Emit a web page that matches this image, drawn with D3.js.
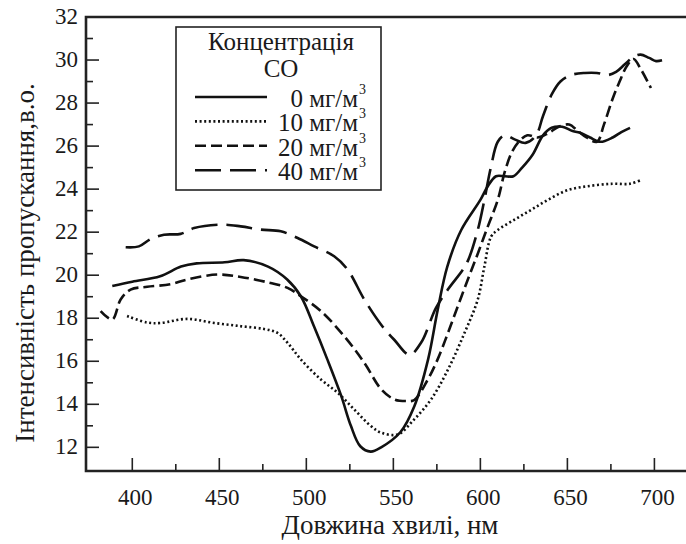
<!DOCTYPE html>
<html><head><meta charset="utf-8">
<script src="https://cdn.jsdelivr.net/npm/d3@7"></script>
<style>body{margin:0;background:#fff}svg{display:block}</style>
</head><body><svg id="c" width="686" height="544" font-family="'Liberation Serif','Times New Roman',Tinos,'DejaVu Serif',serif"></svg>
<script>
// ---- data ----
const xTicks = [400, 450, 500, 550, 600, 650, 700];
const yTicks = [12, 14, 16, 18, 20, 22, 24, 26, 28, 30, 32];
const seriesNames = ["0 мг/м", "10 мг/м", "20 мг/м", "40 мг/м"];

const wl0 = [388.5,400,416,428,437,453,464,478,489,497,504.5,512,520,525.6,531,537,543,554,562,570,575.5,581,589,600,604,609,614,619,624,630,636,641,647,653,658,663,669,676,681,686];
const v0  = [19.5,19.7,19.95,20.4,20.55,20.6,20.7,20.4,19.8,19.0,17.6,16.1,14.4,13.0,12.05,11.8,12.0,12.7,13.9,16.1,18.4,20.4,22.1,23.5,24.1,24.6,24.6,24.6,25.0,25.6,26.5,26.85,26.9,26.7,26.6,26.4,26.2,26.4,26.65,26.85];

const wl10 = [397,408.6,416.3,431.6,447,462.3,475.7,483.4,489.2,496.9,508.4,518,527.5,537.1,543,552.5,562,571.7,581.3,590.8,598.5,602.3,606.2,610,619.6,629.2,638.8,650,663,676,686,693];
const v10  = [18.1,17.8,17.78,17.97,17.78,17.63,17.5,17.32,16.86,16.08,15.15,14.54,13.76,12.99,12.68,12.6,13.3,14.23,15.6,17.3,18.87,20.4,21.8,22.1,22.58,23.04,23.5,23.95,24.15,24.25,24.25,24.45];

const wl20 = [381.8,388.5,393.3,399,408.6,422,431.6,448.9,462.3,477.7,489.2,496.9,508.4,521.8,533.3,543,550.5,557.3,562,569.8,575.5,581.3,587,592.8,598.5,604.3,610,614,618,622,627,633,639,645,651,656,661,667,671,676,680,684,688,692,698];
const v20  = [18.33,17.94,18.87,19.33,19.46,19.58,19.8,20.03,19.92,19.67,19.41,19.02,18.33,17.16,15.93,14.7,14.23,14.15,14.2,15.15,16.1,17.3,18.55,19.8,21.0,22.27,23.5,24.8,25.7,26.2,26.5,26.4,26.6,26.9,27.0,26.7,26.4,26.2,27.0,28.2,29.0,29.7,30.05,29.6,28.7];

const wl40 = [396.2,403.8,410.5,418.2,427.8,435.5,450.8,462.3,473.8,485.3,495,504.5,516,523.7,533.3,543,550.5,559.3,565.9,574.5,581.3,590,593,598.5,602.3,606,610,614,620,626,632,636,641,646,652,660,667,673,678,683,688,692,697,701,705];
const v40  = [21.3,21.34,21.68,21.88,21.92,22.19,22.35,22.27,22.12,22.04,21.73,21.34,20.88,20.26,18.87,17.7,17.0,16.3,16.86,18.48,19.33,20.26,20.7,22.1,23.5,25.0,26.2,26.5,26.3,26.15,26.5,27.4,28.4,29.0,29.3,29.4,29.4,29.3,29.45,29.8,30.15,30.25,30.1,29.95,30.0];

// ---- layout ----
const L = 86, T = 17, R = 692, B = 471;
const svg = d3.select("#c");
const x = d3.scaleLinear().domain([373.4, 721.6]).range([L, R]);
const y = d3.scaleLinear().domain([10.9, 32]).range([B, T]);

const styles = [
  {dash: null, w: 2.6},
  {dash: "2,2.6", w: 2.6},
  {dash: "11,5", w: 2.6},
  {dash: "26,9", w: 2.6}
];
const series = [[wl0, v0], [wl10, v10], [wl20, v20], [wl40, v40]];

svg.append("clipPath").attr("id", "pc").append("rect").attr("x", L).attr("y", T).attr("width", R - L).attr("height", B - T);

const xMinor = d3.range(425, 725, 50);
const yMinor = d3.range(13, 32, 2);
const g = svg.append("g");
g.selectAll(".xt").data(xTicks).join("line").attr("x1", d => x(d)).attr("x2", d => x(d)).attr("y1", B).attr("y2", B - 13).attr("stroke", "#222").attr("stroke-width", 1.6);
g.selectAll(".xm").data(xMinor).join("line").attr("x1", d => x(d)).attr("x2", d => x(d)).attr("y1", B).attr("y2", B - 7).attr("stroke", "#222").attr("stroke-width", 1.6);
g.selectAll(".yt").data(yTicks).join("line").attr("x1", L).attr("x2", L + 13).attr("y1", d => y(d)).attr("y2", d => y(d)).attr("stroke", "#222").attr("stroke-width", 1.6);
g.selectAll(".ym").data(yMinor).join("line").attr("x1", L).attr("x2", L + 7).attr("y1", d => y(d)).attr("y2", d => y(d)).attr("stroke", "#222").attr("stroke-width", 1.6);

g.selectAll(".xl").data(xTicks).join("text").attr("x", d => x(d) + 3).attr("y", B + 34).attr("text-anchor", "middle").attr("font-size", 23).attr("fill", "#1a1a1a").text(d => d);
g.selectAll(".yl").data(yTicks).join("text").attr("x", 78).attr("y", d => y(d) + 7).attr("text-anchor", "end").attr("font-size", 23).attr("fill", "#1a1a1a").text(d => d);

svg.append("path").attr("d", `M${R},${T}H${L}V${B}H${R}`).attr("fill", "none").attr("stroke", "#222").attr("stroke-width", 2.6);

const line = d3.line().x(d => x(d[0])).y(d => y(d[1])).curve(d3.curveCatmullRom.alpha(0.5));
series.forEach((s, i) => {
  const pts = s[0].map((w, k) => [w, s[1][k]]);
  svg.append("path").attr("d", line(pts)).attr("fill", "none").attr("stroke", "#111")
    .attr("stroke-width", styles[i].w).attr("stroke-dasharray", styles[i].dash)
    .attr("stroke-linecap", "butt").attr("clip-path", "url(#pc)");
});

svg.append("text").attr("x", 390).attr("y", 534).attr("text-anchor", "middle").attr("font-size", 27).attr("fill", "#1a1a1a").text("Довжина хвилі, нм");
svg.append("text").attr("transform", "translate(34,263) rotate(-90)").attr("text-anchor", "middle").attr("font-size", 27).attr("fill", "#1a1a1a").text("Інтенсивність пропускання,в.о.");

const lg = svg.append("g");
lg.append("rect").attr("x", 176).attr("y", 27).attr("width", 205).attr("height", 163).attr("fill", "#fff").attr("stroke", "#222").attr("stroke-width", 1.6);
lg.append("text").attr("x", 281).attr("y", 50).attr("text-anchor", "middle").attr("font-size", 25).attr("fill", "#1a1a1a").text("Концентрація");
lg.append("text").attr("x", 281).attr("y", 77).attr("text-anchor", "middle").attr("font-size", 25).attr("fill", "#1a1a1a").text("CO");
seriesNames.forEach((n, i) => {
  const yy = 107 + i * 24.4;
  lg.append("line").attr("x1", 195).attr("x2", 267).attr("y1", yy - 10).attr("y2", yy - 10)
    .attr("stroke", "#111").attr("stroke-width", styles[i].w).attr("stroke-dasharray", styles[i].dash);
  lg.append("text").attr("x", 358).attr("y", yy).attr("text-anchor", "end").attr("font-size", 25).attr("fill", "#1a1a1a").text(n);
  lg.append("text").attr("x", 359).attr("y", yy - 13).attr("font-size", 14).attr("fill", "#1a1a1a").text("3");
});
</script></body></html>
